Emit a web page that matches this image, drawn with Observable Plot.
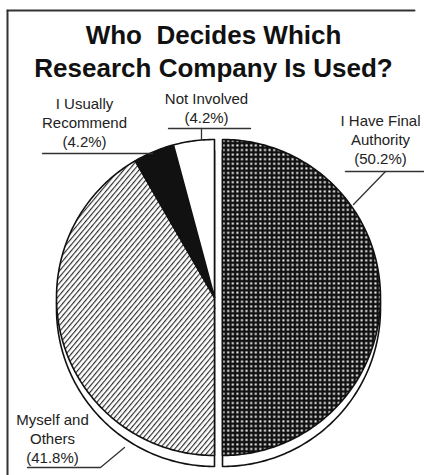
<!DOCTYPE html>
<html><head><meta charset="utf-8">
<script src="https://cdn.jsdelivr.net/npm/d3@7"></script>
<script src="https://cdn.jsdelivr.net/npm/@observablehq/plot@0.6"></script>
<style>
html,body{margin:0;padding:0;background:#fff;}
svg{display:block;}
</style></head><body><div id="chart"></div>
<script>
// ---- data ----
const titleLines = ["Who  Decides Which", "Research Company Is Used?"];
const categories = ["I Have Final Authority", "Myself and Others", "I Usually Recommend", "Not Involved"];
const percents = [50.2, 41.8, 4.2, 4.2];
const labelLines = [
  ["I Have Final", "Authority", "(50.2%)"],
  ["Myself and", "Others", "(41.8%)"],
  ["I Usually", "Recommend", "(4.2%)"],
  ["Not Involved", "(4.2%)"]
];

// ---- layout / style ----
const W = 424, H = 475;
const R = 158, CX = 214, CY = 297, DEPTH = 11;
const explode = [8, 0, 0, 0];
const fills = ["url(#dots)", "url(#hatch)", "#111", "#fff"];
const labelAnchor = [[380, 125], [52, 424], [84, 108], [206, 103]];
const lineGap = 19;
const leaderPaths = [
  [[423, 171], [345, 171]], [[385, 171], [353, 204]],
  [[27, 467], [100, 467], [124, 447]],
  [[42, 153], [152, 153]],
  [[168, 128], [250, 128]], [[201, 128], [201, 139]]
];
const framePaths = [[[7, 10], [414, 10]], [[7, 10], [7, 475]]];

// ---- build slice polygons from values ----
const arcs = d3.pie().sort(null).value(d => d)(percents);
const sliceRows = [];
arcs.forEach((a, i) => {
  const cx = CX + explode[i];
  sliceRows.push({slice: i, x: cx, y: CY});
  const n = Math.max(2, Math.ceil((a.endAngle - a.startAngle) / (Math.PI / 180)));
  for (let k = 0; k <= n; k++) {
    const t = a.startAngle + (a.endAngle - a.startAngle) * k / n;
    sliceRows.push({slice: i, x: cx + R * Math.sin(t), y: CY - R * Math.cos(t)});
  }
});

const labelRows = [];
labelLines.forEach((lines, i) => lines.forEach((t, k) =>
  labelRows.push({text: t, x: labelAnchor[i][0], y: labelAnchor[i][1] + k * lineGap})));

const toRows = paths => paths.flatMap((p, j) => p.map(([x, y]) => ({id: j, x, y})));

const marks = [
  Plot.line(toRows(framePaths), {x: "x", y: "y", z: "id", stroke: "#333", strokeWidth: 2}),
];
arcs.forEach((a, i) => {
  marks.push(Plot.line(sliceRows.filter(d => d.slice === i), {
    x: "x", y: d => d.y + DEPTH, fill: "#fff", stroke: "#111", strokeWidth: 1.6, curve: "linear-closed"
  }));
});
arcs.forEach((a, i) => {
  marks.push(Plot.line(sliceRows.filter(d => d.slice === i), {
    x: "x", y: "y", fill: fills[i], stroke: "#111", strokeWidth: 1.6, curve: "linear-closed"
  }));
});
marks.push(Plot.line(toRows(leaderPaths), {x: "x", y: "y", z: "id", stroke: "#333", strokeWidth: 1.3}));
marks.push(Plot.text(labelRows, {x: "x", y: "y", text: "text", fontSize: 15, fill: "#222", textAnchor: "middle", lineAnchor: "bottom"}));
marks.push(Plot.text(titleLines, {x: () => 213, y: (d, i) => 43 + i * 33, text: d => d, fontSize: 26, fontWeight: "bold", fill: "#111", textAnchor: "middle", lineAnchor: "bottom"}));

const svg = Plot.plot({
  width: W, height: H, margin: 0,
  x: {domain: [0, W], range: [0, W], axis: null},
  y: {domain: [0, H], range: [0, H], axis: null},
  style: {fontFamily: "'Liberation Sans', Arial, sans-serif", background: "#fff", whiteSpace: "pre"},
  marks
});

const ns = "http://www.w3.org/2000/svg";
const defs = document.createElementNS(ns, "defs");
defs.innerHTML = `
<pattern id="dots" width="4.6" height="4.6" patternUnits="userSpaceOnUse">
  <rect width="4.6" height="4.6" fill="#111"/>
  <rect x="1.3" y="1.3" width="2" height="2" fill="#fff"/>
</pattern>
<pattern id="hatch" width="3.9" height="3.9" patternUnits="userSpaceOnUse" patternTransform="rotate(40)">
  <rect width="3.9" height="3.9" fill="#fff"/>
  <line x1="0.6" y1="0" x2="0.6" y2="3.9" stroke="#222" stroke-width="1.1"/>
</pattern>`;
svg.insertBefore(defs, svg.firstChild);
document.getElementById("chart").appendChild(svg);
</script></body></html>
